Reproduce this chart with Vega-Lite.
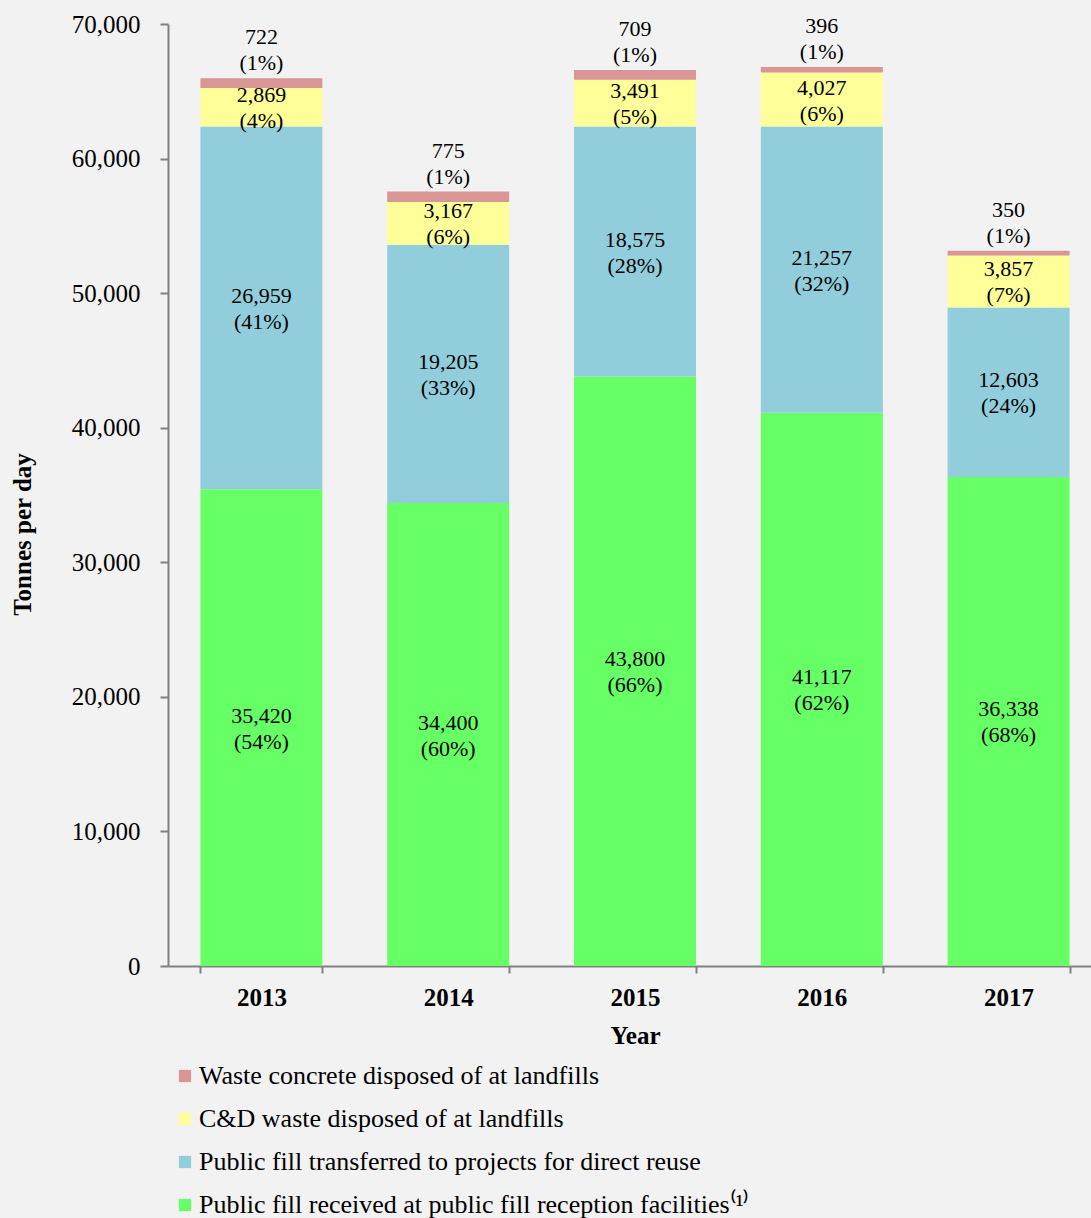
{
  "$schema": "https://vega.github.io/schema/vega-lite/v6.json",
  "autosize": "none",
  "width": 934,
  "height": 942,
  "padding": {"left": 168, "top": 24, "right": 0, "bottom": 252},
  "background": "#F2F2F2",
  "config": {"view": {"stroke": null}, "font": "Liberation Serif"},
  "data": {"values": [
    {"year": "2013", "cat": "Public fill received at public fill reception facilities", "ord": 1, "value": 35420, "pct": 54},
    {"year": "2013", "cat": "Public fill transferred to projects for direct reuse", "ord": 2, "value": 26959, "pct": 41},
    {"year": "2013", "cat": "C&D waste disposed of at landfills", "ord": 3, "value": 2869, "pct": 4},
    {"year": "2013", "cat": "Waste concrete disposed of at landfills", "ord": 4, "value": 722, "pct": 1},
    {"year": "2014", "cat": "Public fill received at public fill reception facilities", "ord": 1, "value": 34400, "pct": 60},
    {"year": "2014", "cat": "Public fill transferred to projects for direct reuse", "ord": 2, "value": 19205, "pct": 33},
    {"year": "2014", "cat": "C&D waste disposed of at landfills", "ord": 3, "value": 3167, "pct": 6},
    {"year": "2014", "cat": "Waste concrete disposed of at landfills", "ord": 4, "value": 775, "pct": 1},
    {"year": "2015", "cat": "Public fill received at public fill reception facilities", "ord": 1, "value": 43800, "pct": 66},
    {"year": "2015", "cat": "Public fill transferred to projects for direct reuse", "ord": 2, "value": 18575, "pct": 28},
    {"year": "2015", "cat": "C&D waste disposed of at landfills", "ord": 3, "value": 3491, "pct": 5},
    {"year": "2015", "cat": "Waste concrete disposed of at landfills", "ord": 4, "value": 709, "pct": 1},
    {"year": "2016", "cat": "Public fill received at public fill reception facilities", "ord": 1, "value": 41117, "pct": 62},
    {"year": "2016", "cat": "Public fill transferred to projects for direct reuse", "ord": 2, "value": 21257, "pct": 32},
    {"year": "2016", "cat": "C&D waste disposed of at landfills", "ord": 3, "value": 4027, "pct": 6},
    {"year": "2016", "cat": "Waste concrete disposed of at landfills", "ord": 4, "value": 396, "pct": 1},
    {"year": "2017", "cat": "Public fill received at public fill reception facilities", "ord": 1, "value": 36338, "pct": 68},
    {"year": "2017", "cat": "Public fill transferred to projects for direct reuse", "ord": 2, "value": 12603, "pct": 24},
    {"year": "2017", "cat": "C&D waste disposed of at landfills", "ord": 3, "value": 3857, "pct": 7},
    {"year": "2017", "cat": "Waste concrete disposed of at landfills", "ord": 4, "value": 350, "pct": 1}
  ]},
  "transform": [
    {"stack": "value", "groupby": ["year"], "sort": [{"field": "ord", "order": "ascending"}], "as": ["y0", "y1"]},
    {"calculate": "(datum.y0 + datum.y1) / 2", "as": "mid"},
    {"calculate": "format(datum.value, ',') + '\\n(' + datum.pct + '%)'", "as": "label"}
  ],
  "encoding": {
    "x": {
      "field": "year", "type": "nominal",
      "scale": {"paddingInner": 0.347, "paddingOuter": 0.1735},
      "axis": {
        "title": "Year", "titleFontSize": 25, "titleFontWeight": "bold", "titleFont": "Liberation Serif", "titlePadding": 13,
        "labelAngle": 0, "labelFontSize": 25, "labelFontWeight": "bold", "labelFont": "Liberation Serif", "labelColor": "#000", "titleColor": "#000",
        "labelPadding": 12,
        "domainColor": "#808080", "domainWidth": 2, "tickColor": "#808080", "tickWidth": 2, "tickSize": 7, "tickBand": "extent"
      }
    }
  },
  "layer": [
    {
      "mark": {"type": "bar"},
      "encoding": {
        "y": {
          "field": "y1", "type": "quantitative",
          "scale": {"domain": [0, 70000], "nice": false},
          "axis": {
            "title": "Tonnes per day", "titleFontSize": 25, "titleFontWeight": "bold", "titleFont": "Liberation Serif", "titleColor": "#000",
            "titleX": -146, "titleY": 510, "titleAngle": -90, "titleAlign": "center", "titleBaseline": "middle",
            "values": [0, 10000, 20000, 30000, 40000, 50000, 60000, 70000], "format": ",.0f",
            "labelFontSize": 25, "labelFont": "Liberation Serif", "labelColor": "#000", "labelPadding": 20,
            "grid": false, "domainColor": "#808080", "domainWidth": 2, "tickColor": "#808080", "tickWidth": 2, "tickSize": 8
          }
        },
        "y2": {"field": "y0"},
        "color": {
          "field": "cat", "type": "nominal",
          "scale": {
            "domain": ["Waste concrete disposed of at landfills", "C&D waste disposed of at landfills", "Public fill transferred to projects for direct reuse", "Public fill received at public fill reception facilities"],
            "range": ["#D99694", "#FFFF99", "#92CDDC", "#66FF66"]
          },
          "legend": {
            "title": null, "orient": "none", "legendX": 4, "legendY": 1039, "direction": "vertical",
            "symbolType": "square", "symbolSize": 150, "symbolStrokeWidth": 0, "symbolOpacity": 1,
            "labelFontSize": 26, "labelFont": "Liberation Serif", "labelColor": "#000", "labelLimit": 800, "labelOffset": 1,
            "rowPadding": 17,
            "labelExpr": "datum.label == 'Public fill received at public fill reception facilities' ? datum.label + '⁽¹⁾' : datum.label"
          }
        }
      }
    },
    {
      "transform": [{"filter": "datum.ord < 4"}],
      "mark": {"type": "text", "fontSize": 22, "font": "Liberation Serif", "color": "#000", "lineBreak": "\n", "lineHeight": 26, "baseline": "middle", "dy": -12},
      "encoding": {
        "y": {"field": "mid", "type": "quantitative"},
        "text": {"field": "label"}
      }
    },
    {
      "transform": [{"filter": "datum.ord == 4"}],
      "mark": {"type": "text", "fontSize": 22, "font": "Liberation Serif", "color": "#000", "lineBreak": "\n", "lineHeight": 26, "baseline": "middle", "dy": -41},
      "encoding": {
        "y": {"field": "y1", "type": "quantitative"},
        "text": {"field": "label"}
      }
    }
  ]
}
